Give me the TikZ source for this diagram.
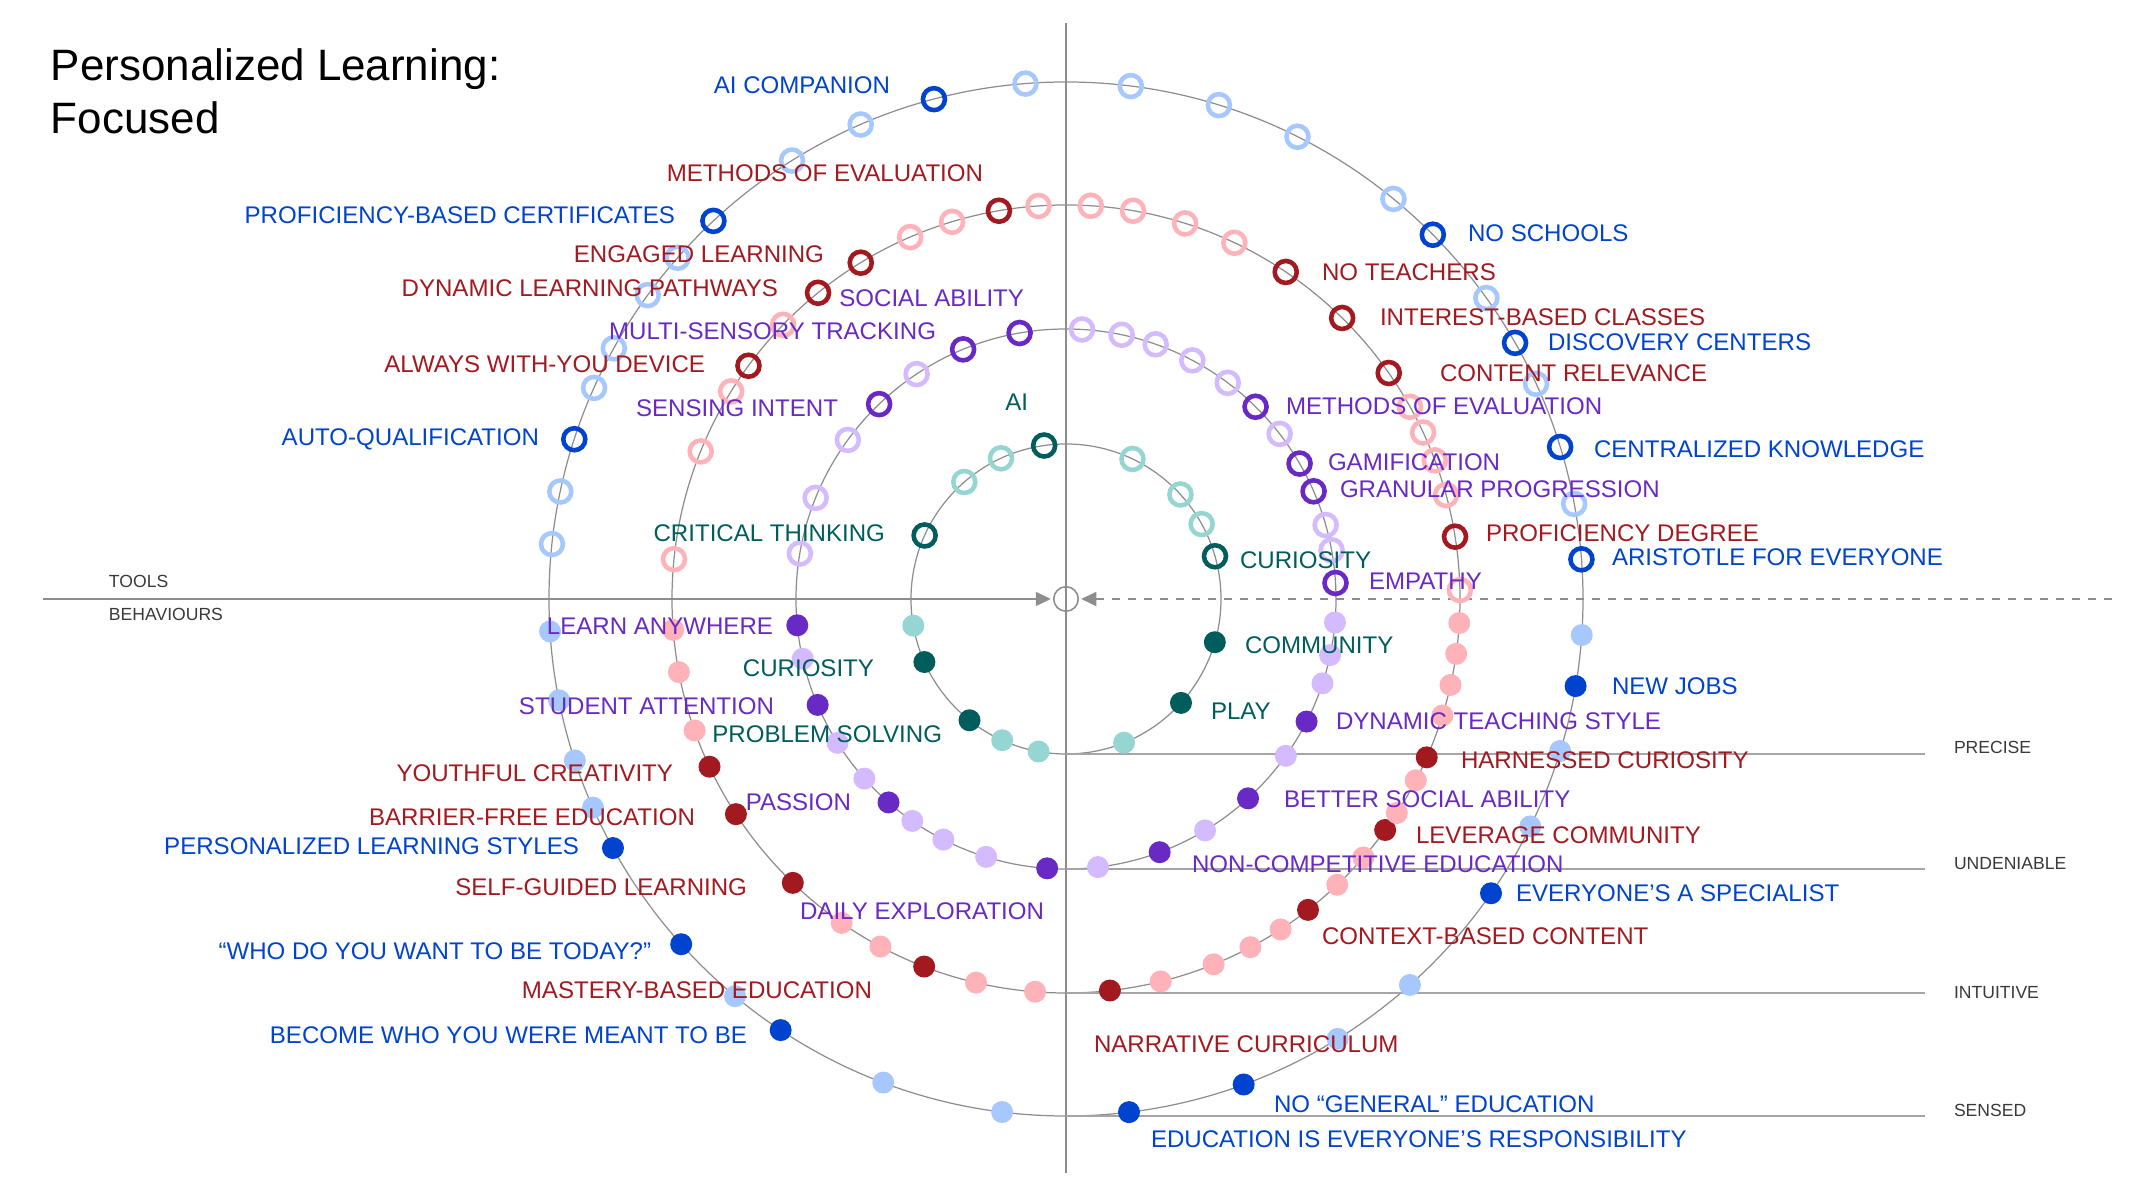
\documentclass[tikz,border=0pt]{standalone}
\usepackage{tikz}
\usetikzlibrary{arrows.meta}
\usepackage{fontspec}
\setmainfont{Liberation Sans}
\definecolor{BlueDark}{RGB}{0,67,206}
\definecolor{BlueLight}{RGB}{166,200,255}
\definecolor{RedDark}{RGB}{162,25,31}
\definecolor{RedLight}{RGB}{255,179,184}
\definecolor{PurpleDark}{RGB}{105,41,196}
\definecolor{PurpleLight}{RGB}{212,187,255}
\definecolor{TealDark}{RGB}{0,93,93}
\definecolor{TealLight}{RGB}{150,214,210}
\definecolor{LineGray}{RGB}{141,141,141}
\definecolor{GaugeGray}{RGB}{165,165,165}
\definecolor{TextGray}{RGB}{57,57,57}

\begin{document}
\begin{tikzpicture}
		\tikzstyle{every node}=[inner sep=0pt, outer sep=0pt];
		\tikzstyle{ringdot}=[draw, circle, line width=1.3pt, minimum size=2.2mm];
		\tikzstyle{fulldot}=[circle, minimum size=2.2mm];
		\tikzstyle{tagtext}=[font=\fontsize{6.85}{8}\selectfont];
		\tikzstyle{scaletext}=[font=\fontsize{5}{6}\selectfont, text=TextGray, anchor=base west];
		\tikzstyle{axisline}=[draw=LineGray, line width=0.45pt];
		\tikzstyle{orbit}=[draw=LineGray, line width=0.35pt];
		\tikzstyle{gauge}=[draw=GaugeGray, line width=0.55pt];
		\useasboundingbox (-10.66,-6.00) rectangle (10.65,5.99);
		% title
		\node [font=\fontsize{12.5}{15}\selectfont, anchor=base west] (title1) at (-10.15,5.18) {Personalized Learning:};
		\node [font=\fontsize{12.5}{15}\selectfont, anchor=base west] (title2) at (-10.15,4.65) {Focused};
		% axes
		\node [circle, draw=LineGray, line width=0.45pt, minimum size=2.45mm] (ctr) at (0,0) {};
		\coordinate (top) at (0,5.76);
		\coordinate (bottom) at (0,-5.74);
		\coordinate (toolsend) at (-10.23,0);
		\coordinate (dashend) at (10.46,0);
		\draw[orbit] (ctr.center) circle (1.55);
		\draw[orbit] (ctr.center) circle (2.70);
		\draw[orbit] (ctr.center) circle (3.94);
		\draw[orbit] (ctr.center) circle (5.17);
		\draw[axisline] (top) -- (bottom);
		\draw[axisline, -{Triangle[length=1.5mm,width=1.4mm]}, shorten >=0.3mm] (toolsend) -- (ctr);
		\draw[axisline, dash pattern=on 0.8mm off 0.8mm, -{Triangle[length=1.5mm,width=1.4mm]}, shorten >=0.3mm] (dashend) -- (ctr);
		\coordinate (g1a) at (0,-1.55);
		\coordinate (g1b) at (8.59,-1.55);
		\coordinate (g2a) at (0,-2.70);
		\coordinate (g2b) at (8.59,-2.70);
		\coordinate (g3a) at (0,-3.94);
		\coordinate (g3b) at (8.59,-3.94);
		\coordinate (g4a) at (0,-5.17);
		\coordinate (g4b) at (8.59,-5.17);
		\draw[gauge] (g1a) -- (g1b);
		\draw[gauge] (g2a) -- (g2b);
		\draw[gauge] (g3a) -- (g3b);
		\draw[gauge] (g4a) -- (g4b);
		\node [scaletext] (tools) at (-9.57,0.11) {TOOLS};
		\node [scaletext] (behav) at (-9.57,-0.22) {BEHAVIOURS};
		\node [scaletext] (precise) at (8.88,-1.55) {PRECISE};
		\node [scaletext] (undeniable) at (8.88,-2.71) {UNDENIABLE};
		\node [scaletext] (intuitive) at (8.88,-4.00) {INTUITIVE};
		\node [scaletext] (sensed) at (8.88,-5.18) {SENSED};
		% teal ring
		\node [ringdot, draw=TealDark] (t01) at (98.1:1.55) {};
		\node [ringdot, draw=TealLight] (t02) at (114.8:1.55) {};
		\node [ringdot, draw=TealLight] (t03) at (131:1.55) {};
		\node [ringdot, draw=TealDark] (t04) at (155.8:1.55) {};
		\node [ringdot, draw=TealLight] (t05) at (64.6:1.55) {};
		\node [ringdot, draw=TealLight] (t06) at (42.4:1.55) {};
		\node [ringdot, draw=TealLight] (t07) at (28.9:1.55) {};
		\node [ringdot, draw=TealDark] (t08) at (16:1.55) {};
		\node [fulldot, fill=TealLight] (t09) at (189.9:1.55) {};
		\node [fulldot, fill=TealDark] (t10) at (204:1.55) {};
		\node [fulldot, fill=TealDark] (t11) at (231.5:1.55) {};
		\node [fulldot, fill=TealLight] (t12) at (245.7:1.55) {};
		\node [fulldot, fill=TealLight] (t13) at (259.8:1.55) {};
		\node [fulldot, fill=TealLight] (t14) at (292:1.55) {};
		\node [fulldot, fill=TealDark] (t15) at (317.9:1.55) {};
		\node [fulldot, fill=TealDark] (t16) at (343.8:1.55) {};
		% purple ring
		\node [ringdot, draw=PurpleDark] (p01) at (99.9:2.70) {};
		\node [ringdot, draw=PurpleDark] (p02) at (112.4:2.70) {};
		\node [ringdot, draw=PurpleLight] (p03) at (123.6:2.70) {};
		\node [ringdot, draw=PurpleDark] (p04) at (133.8:2.70) {};
		\node [ringdot, draw=PurpleLight] (p05) at (143.9:2.70) {};
		\node [ringdot, draw=PurpleLight] (p06) at (158:2.70) {};
		\node [ringdot, draw=PurpleLight] (p07) at (170.3:2.70) {};
		\node [ringdot, draw=PurpleLight] (p08) at (86.6:2.70) {};
		\node [ringdot, draw=PurpleLight] (p09) at (78.1:2.70) {};
		\node [ringdot, draw=PurpleLight] (p10) at (70.6:2.70) {};
		\node [ringdot, draw=PurpleLight] (p11) at (62.1:2.70) {};
		\node [ringdot, draw=PurpleLight] (p12) at (53.2:2.70) {};
		\node [ringdot, draw=PurpleDark] (p13) at (45.4:2.70) {};
		\node [ringdot, draw=PurpleLight] (p14) at (37.7:2.70) {};
		\node [ringdot, draw=PurpleDark] (p15) at (30.1:2.70) {};
		\node [ringdot, draw=PurpleDark] (p16) at (23.5:2.70) {};
		\node [ringdot, draw=PurpleLight] (p17) at (15.9:2.70) {};
		\node [ringdot, draw=PurpleLight] (p18) at (10.4:2.70) {};
		\node [ringdot, draw=PurpleDark] (p19) at (3.4:2.70) {};
		\node [fulldot, fill=PurpleDark] (p20) at (185.6:2.70) {};
		\node [fulldot, fill=PurpleLight] (p21) at (192.8:2.70) {};
		\node [fulldot, fill=PurpleDark] (p22) at (203.1:2.70) {};
		\node [fulldot, fill=PurpleLight] (p23) at (212.2:2.70) {};
		\node [fulldot, fill=PurpleLight] (p24) at (221.7:2.70) {};
		\node [fulldot, fill=PurpleDark] (p25) at (228.9:2.70) {};
		\node [fulldot, fill=PurpleLight] (p26) at (235.3:2.70) {};
		\node [fulldot, fill=PurpleLight] (p27) at (243:2.70) {};
		\node [fulldot, fill=PurpleLight] (p28) at (252.8:2.70) {};
		\node [fulldot, fill=PurpleDark] (p29) at (266:2.70) {};
		\node [fulldot, fill=PurpleLight] (p30) at (276.8:2.70) {};
		\node [fulldot, fill=PurpleDark] (p31) at (290.3:2.70) {};
		\node [fulldot, fill=PurpleLight] (p32) at (301:2.70) {};
		\node [fulldot, fill=PurpleDark] (p33) at (312.4:2.70) {};
		\node [fulldot, fill=PurpleLight] (p34) at (324.5:2.70) {};
		\node [fulldot, fill=PurpleDark] (p35) at (333:2.70) {};
		\node [fulldot, fill=PurpleLight] (p36) at (341.8:2.70) {};
		\node [fulldot, fill=PurpleLight] (p37) at (348:2.70) {};
		\node [fulldot, fill=PurpleLight] (p38) at (355:2.70) {};
		% red ring
		\node [ringdot, draw=RedLight] (r01) at (94:3.94) {};
		\node [ringdot, draw=RedDark] (r02) at (99.8:3.94) {};
		\node [ringdot, draw=RedLight] (r03) at (106.8:3.94) {};
		\node [ringdot, draw=RedLight] (r04) at (113.3:3.94) {};
		\node [ringdot, draw=RedDark] (r05) at (121.4:3.94) {};
		\node [ringdot, draw=RedDark] (r06) at (129:3.94) {};
		\node [ringdot, draw=RedLight] (r07) at (135.9:3.94) {};
		\node [ringdot, draw=RedDark] (r08) at (143.7:3.94) {};
		\node [ringdot, draw=RedLight] (r09) at (148.2:3.94) {};
		\node [ringdot, draw=RedLight] (r10) at (158:3.94) {};
		\node [ringdot, draw=RedLight] (r11) at (174.2:3.94) {};
		\node [ringdot, draw=RedLight] (r12) at (86.4:3.94) {};
		\node [ringdot, draw=RedLight] (r13) at (80.2:3.94) {};
		\node [ringdot, draw=RedLight] (r14) at (72.4:3.94) {};
		\node [ringdot, draw=RedLight] (r15) at (64.7:3.94) {};
		\node [ringdot, draw=RedDark] (r16) at (56.1:3.94) {};
		\node [ringdot, draw=RedDark] (r17) at (45.5:3.94) {};
		\node [ringdot, draw=RedDark] (r18) at (35:3.94) {};
		\node [ringdot, draw=RedLight] (r19) at (29.2:3.94) {};
		\node [ringdot, draw=RedLight] (r20) at (25:3.94) {};
		\node [ringdot, draw=RedLight] (r21) at (20.6:3.94) {};
		\node [ringdot, draw=RedLight] (r22) at (15.3:3.94) {};
		\node [ringdot, draw=RedDark] (r23) at (9.1:3.94) {};
		\node [ringdot, draw=RedLight] (r24) at (1.3:3.94) {};
		\node [fulldot, fill=RedLight] (r25) at (184.5:3.94) {};
		\node [fulldot, fill=RedLight] (r26) at (190.7:3.94) {};
		\node [fulldot, fill=RedLight] (r27) at (199.5:3.94) {};
		\node [fulldot, fill=RedDark] (r28) at (205.2:3.94) {};
		\node [fulldot, fill=RedDark] (r29) at (213.1:3.94) {};
		\node [fulldot, fill=RedDark] (r30) at (226.1:3.94) {};
		\node [fulldot, fill=RedLight] (r31) at (235.3:3.94) {};
		\node [fulldot, fill=RedLight] (r32) at (241.9:3.94) {};
		\node [fulldot, fill=RedDark] (r33) at (248.9:3.94) {};
		\node [fulldot, fill=RedLight] (r34) at (256.8:3.94) {};
		\node [fulldot, fill=RedLight] (r35) at (265.5:3.94) {};
		\node [fulldot, fill=RedDark] (r36) at (276.4:3.94) {};
		\node [fulldot, fill=RedLight] (r37) at (283.9:3.94) {};
		\node [fulldot, fill=RedLight] (r38) at (292:3.94) {};
		\node [fulldot, fill=RedLight] (r39) at (297.9:3.94) {};
		\node [fulldot, fill=RedLight] (r40) at (303:3.94) {};
		\node [fulldot, fill=RedDark] (r41) at (307.9:3.94) {};
		\node [fulldot, fill=RedLight] (r42) at (313.5:3.94) {};
		\node [fulldot, fill=RedLight] (r43) at (319:3.94) {};
		\node [fulldot, fill=RedDark] (r44) at (324.1:3.94) {};
		\node [fulldot, fill=RedLight] (r45) at (327.1:3.94) {};
		\node [fulldot, fill=RedLight] (r46) at (332.6:3.94) {};
		\node [fulldot, fill=RedDark] (r47) at (336.3:3.94) {};
		\node [fulldot, fill=RedLight] (r48) at (342.8:3.94) {};
		\node [fulldot, fill=RedLight] (r49) at (347.4:3.94) {};
		\node [fulldot, fill=RedLight] (r50) at (352:3.94) {};
		\node [fulldot, fill=RedLight] (r51) at (356.5:3.94) {};
		% blue ring
		\node [ringdot, draw=BlueLight] (b01) at (94.5:5.17) {};
		\node [ringdot, draw=BlueDark] (b02) at (104.8:5.17) {};
		\node [ringdot, draw=BlueLight] (b03) at (113.4:5.17) {};
		\node [ringdot, draw=BlueLight] (b04) at (122:5.17) {};
		\node [ringdot, draw=BlueDark] (b05) at (133:5.17) {};
		\node [ringdot, draw=BlueLight] (b06) at (138.7:5.17) {};
		\node [ringdot, draw=BlueLight] (b07) at (144:5.17) {};
		\node [ringdot, draw=BlueLight] (b08) at (151:5.17) {};
		\node [ringdot, draw=BlueLight] (b09) at (155.9:5.17) {};
		\node [ringdot, draw=BlueDark] (b10) at (162:5.17) {};
		\node [ringdot, draw=BlueLight] (b11) at (168:5.17) {};
		\node [ringdot, draw=BlueLight] (b12) at (173.9:5.17) {};
		\node [ringdot, draw=BlueLight] (b13) at (82.8:5.17) {};
		\node [ringdot, draw=BlueLight] (b14) at (72.8:5.17) {};
		\node [ringdot, draw=BlueLight] (b15) at (63.4:5.17) {};
		\node [ringdot, draw=BlueLight] (b16) at (50.7:5.17) {};
		\node [ringdot, draw=BlueDark] (b17) at (44.8:5.17) {};
		\node [ringdot, draw=BlueLight] (b18) at (35.6:5.17) {};
		\node [ringdot, draw=BlueDark] (b19) at (29.7:5.17) {};
		\node [ringdot, draw=BlueLight] (b20) at (24.6:5.17) {};
		\node [ringdot, draw=BlueDark] (b21) at (17.1:5.17) {};
		\node [ringdot, draw=BlueLight] (b22) at (10.6:5.17) {};
		\node [ringdot, draw=BlueDark] (b23) at (4.4:5.17) {};
		\node [fulldot, fill=BlueLight] (b24) at (183.6:5.17) {};
		\node [fulldot, fill=BlueLight] (b25) at (191.3:5.17) {};
		\node [fulldot, fill=BlueLight] (b26) at (198.2:5.17) {};
		\node [fulldot, fill=BlueLight] (b27) at (203.8:5.17) {};
		\node [fulldot, fill=BlueDark] (b28) at (208.8:5.17) {};
		\node [fulldot, fill=BlueDark] (b29) at (221.9:5.17) {};
		\node [fulldot, fill=BlueLight] (b30) at (230.2:5.17) {};
		\node [fulldot, fill=BlueDark] (b31) at (236.5:5.17) {};
		\node [fulldot, fill=BlueLight] (b32) at (249.3:5.17) {};
		\node [fulldot, fill=BlueLight] (b33) at (262.9:5.17) {};
		\node [fulldot, fill=BlueDark] (b34) at (277:5.17) {};
		\node [fulldot, fill=BlueDark] (b35) at (290.1:5.17) {};
		\node [fulldot, fill=BlueLight] (b36) at (301.7:5.17) {};
		\node [fulldot, fill=BlueLight] (b37) at (311.7:5.17) {};
		\node [fulldot, fill=BlueDark] (b38) at (325.3:5.17) {};
		\node [fulldot, fill=BlueLight] (b39) at (333.9:5.17) {};
		\node [fulldot, fill=BlueLight] (b40) at (342.9:5.17) {};
		\node [fulldot, fill=BlueDark] (b41) at (350.3:5.17) {};
		\node [fulldot, fill=BlueLight] (b42) at (356:5.17) {};
		% teal labels
		\node [tagtext, text=TealDark, anchor=base east] (lt01) at (-0.38,1.88) {AI};
		\node [tagtext, text=TealDark, anchor=base east] (lt04) at (-1.81,0.57) {CRITICAL THINKING};
		\node [tagtext, text=TealDark, anchor=base west] (lt08) at (1.74,0.30) {CURIOSITY};
		\node [tagtext, text=TealDark, anchor=base east] (lt10) at (-1.92,-0.78) {CURIOSITY};
		\node [tagtext, text=TealDark, anchor=base east] (lt11) at (-1.24,-1.44) {PROBLEM SOLVING};
		\node [tagtext, text=TealDark, anchor=base west] (lt15) at (1.45,-1.21) {PLAY};
		\node [tagtext, text=TealDark, anchor=base west] (lt16) at (1.79,-0.55) {COMMUNITY};
		% purple labels
		\node [tagtext, text=PurpleDark, anchor=base east] (lp01) at (-0.42,2.92) {SOCIAL ABILITY};
		\node [tagtext, text=PurpleDark, anchor=base east] (lp02) at (-1.30,2.59) {MULTI-SENSORY TRACKING};
		\node [tagtext, text=PurpleDark, anchor=base east] (lp04) at (-2.28,1.82) {SENSING INTENT};
		\node [tagtext, text=PurpleDark, anchor=base west] (lp13) at (2.20,1.84) {METHODS OF EVALUATION};
		\node [tagtext, text=PurpleDark, anchor=base west] (lp15) at (2.62,1.28) {GAMIFICATION};
		\node [tagtext, text=PurpleDark, anchor=base west] (lp16) at (2.74,1.01) {GRANULAR PROGRESSION};
		\node [tagtext, text=PurpleDark, anchor=base west] (lp19) at (3.03,0.09) {EMPATHY};
		\node [tagtext, text=PurpleDark, anchor=base east] (lp20) at (-2.93,-0.36) {LEARN ANYWHERE};
		\node [tagtext, text=PurpleDark, anchor=base east] (lp22) at (-2.92,-1.16) {STUDENT ATTENTION};
		\node [tagtext, text=PurpleDark, anchor=base east] (lp25) at (-2.15,-2.12) {PASSION};
		\node [tagtext, text=PurpleDark, anchor=base east] (lp29) at (-0.22,-3.21) {DAILY EXPLORATION};
		\node [tagtext, text=PurpleDark, anchor=base west] (lp31) at (1.26,-2.74) {NON-COMPETITIVE EDUCATION};
		\node [tagtext, text=PurpleDark, anchor=base west] (lp33) at (2.18,-2.09) {BETTER SOCIAL ABILITY};
		\node [tagtext, text=PurpleDark, anchor=base west] (lp35) at (2.70,-1.31) {DYNAMIC TEACHING STYLE};
		% red labels
		\node [tagtext, text=RedDark, anchor=base east] (lr02) at (-0.83,4.17) {METHODS OF EVALUATION};
		\node [tagtext, text=RedDark, anchor=base east] (lr05) at (-2.42,3.36) {ENGAGED LEARNING};
		\node [tagtext, text=RedDark, anchor=base east] (lr06) at (-2.88,3.02) {DYNAMIC LEARNING PATHWAYS};
		\node [tagtext, text=RedDark, anchor=base east] (lr08) at (-3.61,2.26) {ALWAYS WITH-YOU DEVICE};
		\node [tagtext, text=RedDark, anchor=base west] (lr16) at (2.56,3.18) {NO TEACHERS};
		\node [tagtext, text=RedDark, anchor=base west] (lr17) at (3.14,2.73) {INTEREST-BASED CLASSES};
		\node [tagtext, text=RedDark, anchor=base west] (lr18) at (3.74,2.17) {CONTENT RELEVANCE};
		\node [tagtext, text=RedDark, anchor=base west] (lr23) at (4.20,0.57) {PROFICIENCY DEGREE};
		\node [tagtext, text=RedDark, anchor=base east] (lr28) at (-3.93,-1.83) {YOUTHFUL CREATIVITY};
		\node [tagtext, text=RedDark, anchor=base east] (lr29) at (-3.71,-2.27) {BARRIER-FREE EDUCATION};
		\node [tagtext, text=RedDark, anchor=base east] (lr30) at (-3.19,-2.97) {SELF-GUIDED LEARNING};
		\node [tagtext, text=RedDark, anchor=base east] (lr33) at (-1.94,-4.00) {MASTERY-BASED EDUCATION};
		\node [tagtext, text=RedDark, anchor=base west] (lr36) at (0.28,-4.54) {NARRATIVE CURRICULUM};
		\node [tagtext, text=RedDark, anchor=base west] (lr41) at (2.56,-3.46) {CONTEXT-BASED CONTENT};
		\node [tagtext, text=RedDark, anchor=base west] (lr44) at (3.50,-2.45) {LEVERAGE COMMUNITY};
		\node [tagtext, text=RedDark, anchor=base west] (lr47) at (3.95,-1.70) {HARNESSED CURIOSITY};
		% blue labels
		\node [tagtext, text=BlueDark, anchor=base east] (lb02) at (-1.76,5.05) {AI COMPANION};
		\node [tagtext, text=BlueDark, anchor=base east] (lb05) at (-3.91,3.75) {PROFICIENCY-BASED CERTIFICATES};
		\node [tagtext, text=BlueDark, anchor=base east] (lb10) at (-5.27,1.53) {AUTO-QUALIFICATION};
		\node [tagtext, text=BlueDark, anchor=base west] (lb17) at (4.02,3.57) {NO SCHOOLS};
		\node [tagtext, text=BlueDark, anchor=base west] (lb19) at (4.82,2.48) {DISCOVERY CENTERS};
		\node [tagtext, text=BlueDark, anchor=base west] (lb21) at (5.28,1.41) {CENTRALIZED KNOWLEDGE};
		\node [tagtext, text=BlueDark, anchor=base west] (lb23) at (5.46,0.33) {ARISTOTLE FOR EVERYONE};
		\node [tagtext, text=BlueDark, anchor=base east] (lb28) at (-4.87,-2.56) {PERSONALIZED LEARNING STYLES};
		\node [tagtext, text=BlueDark, anchor=base east] (lb29) at (-4.15,-3.61) {“WHO DO YOU WANT TO BE TODAY?”};
		\node [tagtext, text=BlueDark, anchor=base east] (lb31) at (-3.19,-4.45) {BECOME WHO YOU WERE MEANT TO BE};
		\node [tagtext, text=BlueDark, anchor=base west] (lb34) at (0.85,-5.49) {EDUCATION IS EVERYONE’S RESPONSIBILITY};
		\node [tagtext, text=BlueDark, anchor=base west] (lb35) at (2.08,-5.14) {NO “GENERAL” EDUCATION};
		\node [tagtext, text=BlueDark, anchor=base west] (lb38) at (4.50,-3.03) {EVERYONE’S A SPECIALIST};
		\node [tagtext, text=BlueDark, anchor=base west] (lb41) at (5.46,-0.96) {NEW JOBS};
	\end{tikzpicture}
\end{document}
